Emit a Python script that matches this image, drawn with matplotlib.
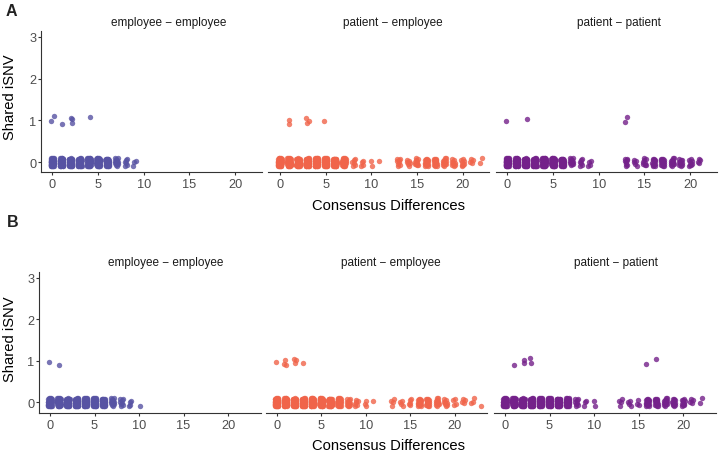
import matplotlib
matplotlib.use("Agg")
import matplotlib.pyplot as plt
import numpy as np

plt.rcParams['font.family'] = ['Liberation Sans', 'DejaVu Sans']

# ---------------- data ----------------
facet_names = ["employee \u2212 employee", "patient \u2212 employee", "patient \u2212 patient"]
facet_colors = ["#5753A3", "#F0644A", "#74218A"]
panel_labels = ["A", "B"]
x_label = "Consensus Differences"
y_label = "Shared iSNV"
x_ticks = [0, 5, 10, 15, 20]
y_ticks = [0, 1, 2, 3]

# Panel A -- counts of pairs with 0 / 1 shared iSNV, by consensus difference
A_ee_x0 = [0, 1, 2, 3, 4, 5, 6, 7, 8, 9]
A_ee_n0 = [60, 60, 60, 60, 60, 60, 40, 14, 6, 3]
A_ee_x1 = [0, 1, 2, 4]
A_ee_n1 = [2, 1, 3, 1]

A_pe_x0 = [0, 1, 2, 3, 4, 5, 6, 7, 8, 9, 10, 11, 13, 14, 15, 16, 17, 18, 19, 20, 21, 22]
A_pe_n0 = [60, 60, 60, 60, 60, 60, 60, 40, 6, 4, 2, 1, 8, 6, 10, 16, 16, 12, 9, 8, 4, 2]
A_pe_x1 = [1, 3, 5]
A_pe_n1 = [2, 3, 1]

A_pp_x0 = [0, 1, 2, 3, 4, 5, 6, 7, 8, 9, 13, 14, 15, 16, 17, 18, 19, 20, 21]
A_pp_n0 = [60, 60, 60, 60, 60, 60, 40, 12, 6, 4, 8, 5, 8, 16, 16, 12, 10, 8, 4]
A_pp_x1 = [0, 2, 13]
A_pp_n1 = [1, 1, 2]

# Panel B
B_ee_x0 = [0, 1, 2, 3, 4, 5, 6, 7, 8, 9, 10]
B_ee_n0 = [60, 60, 60, 60, 60, 60, 40, 14, 8, 4, 1]
B_ee_x1 = [0, 1]
B_ee_n1 = [1, 1]

B_pe_x0 = [0, 1, 2, 3, 4, 5, 6, 7, 8, 9, 10, 11, 13, 14, 15, 16, 17, 18, 19, 20, 21, 22, 23]
B_pe_n0 = [60, 60, 60, 60, 60, 60, 60, 40, 12, 6, 3, 1, 4, 4, 5, 16, 16, 12, 8, 4, 4, 3, 1]
B_pe_x1 = [0, 1, 2, 3]
B_pe_n1 = [1, 3, 3, 1]

B_pp_x0 = [0, 1, 2, 3, 4, 5, 6, 7, 8, 9, 10, 13, 14, 15, 16, 17, 18, 19, 20, 21, 22]
B_pp_n0 = [60, 60, 60, 60, 60, 60, 60, 40, 8, 3, 2, 4, 4, 3, 16, 16, 14, 12, 10, 4, 2]
B_pp_x1 = [1, 2, 3, 16, 17]
B_pp_n1 = [1, 2, 2, 1, 1]

panels = [
    [(A_ee_x0, A_ee_n0, A_ee_x1, A_ee_n1),
     (A_pe_x0, A_pe_n0, A_pe_x1, A_pe_n1),
     (A_pp_x0, A_pp_n0, A_pp_x1, A_pp_n1)],
    [(B_ee_x0, B_ee_n0, B_ee_x1, B_ee_n1),
     (B_pe_x0, B_pe_n0, B_pe_x1, B_pe_n1),
     (B_pp_x0, B_pp_n0, B_pp_x1, B_pp_n1)],
]


def jittered(xs, ns, yval, wx=0.2, hy=0.1):
    """Spread the n points of each (x, y) cell over a small box using a
    deterministic R2 low-discrepancy sequence (visual jitter only)."""
    a1, a2 = 0.7548776662, 0.5698402910
    px, py = [], []
    for x, n in zip(xs, ns):
        s1 = (0.37 * x + 0.23 * yval) % 1.0
        s2 = (0.61 * x + 0.41 * yval) % 1.0
        for i in range(n):
            u = (s1 + i * a1) % 1.0
            v = (s2 + i * a2) % 1.0
            px.append(x + (2 * u - 1) * wx)
            py.append(yval + (2 * v - 1) * hy)
    return px, py


# ---------------- layout ----------------
W, H = 720, 456
fig = plt.figure(figsize=(W / 100, H / 100), dpi=100)


def add_ax(l, t, w, h):
    return fig.add_axes([l / W, 1 - (t + h) / H, w / W, h / H])


def ftext(x, y, s, **kw):
    fig.text(x / W, 1 - y / H, s, **kw)


layout = [
    dict(top=32.0, h=141.3, lefts=[40.7, 268.2, 495.7], w=221.0,
         xlim=(-1.28, 22.9), ylim=(-0.239, 3.136),
         strip_y=22.7, strip_x=[168.7, 393.3, 618.8],
         xlab_y=206.0, ylab_y=97.5, lab_xy=(11.5, 11.5)),
    dict(top=272.7, h=141.6, lefts=[39.0, 265.7, 494.0], w=221.5,
         xlim=(-1.236, 23.65), ylim=(-0.266, 3.152),
         strip_y=263.0, strip_x=[166.0, 391.0, 616.0],
         xlab_y=446.0, ylab_y=339.0, lab_xy=(12.5, 223.0)),
]

tick_col = "#4D4D4D"
line_col = "#333333"

for p, (lay, facets) in enumerate(zip(layout, panels)):
    for f, (x0, n0, x1, n1) in enumerate(facets):
        ax = add_ax(lay['lefts'][f], lay['top'], lay['w'], lay['h'])
        for xs, ns, yv in ((x0, n0, 0), (x1, n1, 1)):
            jx, jy = jittered(xs, ns, yv)
            ax.scatter(jx, jy, s=15, color=facet_colors[f], alpha=0.8,
                       linewidths=0, zorder=3)
        ax.set_xlim(*lay['xlim'])
        ax.set_ylim(*lay['ylim'])
        ax.set_xticks(x_ticks)
        ax.set_xticklabels([str(t) for t in x_ticks])
        for s in ('top', 'right'):
            ax.spines[s].set_visible(False)
        ax.spines['bottom'].set_color(line_col)
        ax.spines['bottom'].set_linewidth(0.8)
        ax.tick_params(axis='x', length=2.4, width=0.8, color=line_col,
                       labelsize=9.2, labelcolor=tick_col, pad=1.5)
        if f == 0:
            ax.set_yticks(y_ticks)
            ax.set_yticklabels([str(t) for t in y_ticks])
            ax.spines['left'].set_color(line_col)
            ax.spines['left'].set_linewidth(0.8)
            ax.tick_params(axis='y', length=2.2, width=0.8, color=line_col,
                           labelsize=9.2, labelcolor=tick_col, pad=1.0)
        else:
            ax.spines['left'].set_visible(False)
            ax.set_yticks([])
        ax.patch.set_alpha(0)
        ftext(lay['strip_x'][f], lay['strip_y'], facet_names[f],
              ha='center', va='center', fontsize=8.5, color='#1A1A1A')
    ftext(388.0, lay['xlab_y'], x_label, ha='center', va='center',
          fontsize=10.6, color='black')
    ftext(10.5, lay['ylab_y'], y_label, ha='center', va='center',
          rotation=90, fontsize=10.6, color='black')
    ftext(lay['lab_xy'][0], lay['lab_xy'][1], panel_labels[p], ha='center',
          va='center', fontsize=11.5, fontweight='bold', color='#222222')

fig.savefig("out.png", dpi=100)
